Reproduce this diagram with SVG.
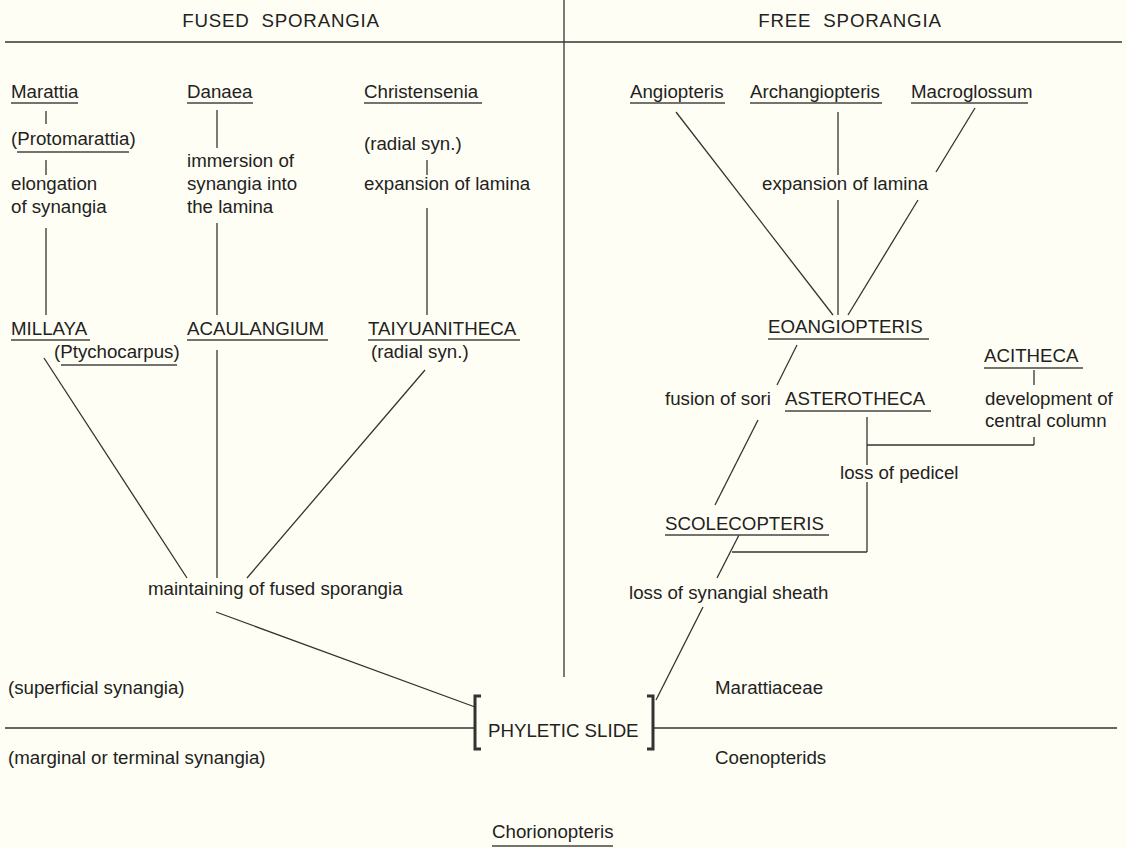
<svg xmlns="http://www.w3.org/2000/svg" width="1127" height="848" viewBox="0 0 1127 848">
<style>
text{font-family:"Liberation Sans",Arial,sans-serif;font-size:18.7px;fill:#222}
.t{letter-spacing:0.8px}
line,path{stroke:#333;stroke-width:1.3;fill:none}
.u{stroke:#444;stroke-width:1.4}
.br{stroke:#333;stroke-width:3;fill:none}
</style>
<rect width="1127" height="848" fill="#fffef4"/>
<g id="frame">
<line x1="5" y1="42" x2="1122" y2="42"/>
<line x1="564" y1="0" x2="564" y2="677"/>
<line x1="5" y1="728" x2="475" y2="728"/>
<line x1="653" y1="728" x2="1117" y2="728"/>
<text class="t" x="281" y="27" text-anchor="middle" xml:space="preserve">FUSED  SPORANGIA</text>
<text class="t" x="850" y="27" text-anchor="middle" xml:space="preserve">FREE  SPORANGIA</text>
<text x="8" y="694">(superficial synangia)</text>
<text x="8" y="764">(marginal or terminal synangia)</text>
<text x="715" y="694">Marattiaceae</text>
<text x="715" y="764">Coenopterids</text>
</g>
<g id="connectors">
<line x1="46" y1="111" x2="46" y2="124"/>
<line x1="46" y1="160" x2="46" y2="175"/>
<line x1="46" y1="228" x2="46" y2="315"/>
<line x1="217" y1="110" x2="217" y2="148"/>
<line x1="217" y1="223" x2="217" y2="315"/>
<line x1="427" y1="160" x2="427" y2="175"/>
<line x1="427" y1="208" x2="427" y2="315"/>
<line x1="44" y1="358" x2="187" y2="578"/>
<line x1="217" y1="350" x2="217" y2="578"/>
<line x1="425" y1="370" x2="247" y2="578"/>
<line x1="216" y1="612" x2="475" y2="707"/>
<line x1="676" y1="112" x2="833" y2="315"/>
<line x1="838" y1="112" x2="838" y2="175"/>
<line x1="838" y1="200" x2="838" y2="315"/>
<line x1="975" y1="108" x2="936" y2="172"/>
<line x1="918" y1="200" x2="848" y2="315"/>
<line x1="797" y1="345" x2="777" y2="385"/>
<line x1="758" y1="420" x2="715" y2="505"/>
<line x1="1034" y1="370" x2="1034" y2="385"/>
<line x1="1034" y1="437" x2="1034" y2="445"/>
<line x1="867" y1="417" x2="867" y2="465"/>
<line x1="867" y1="482" x2="867" y2="552"/>
<line x1="867" y1="445" x2="1034" y2="445"/>
<line x1="867" y1="552" x2="732" y2="552"/>
<line x1="739" y1="535" x2="717" y2="578"/>
<line x1="703" y1="607" x2="656" y2="700"/>
</g>
<g id="n-marattia"><text x="11" y="98">Marattia</text><line class="u" x1="11" y1="103" x2="78" y2="103"/></g>
<g id="n-protomarattia"><text x="11" y="145">(Protomarattia)</text><line class="u" x1="17" y1="152" x2="129" y2="152"/></g>
<g id="n-elongation"><text x="11" y="190">elongation</text><text x="11" y="213">of synangia</text></g>
<g id="n-danaea"><text x="187" y="98">Danaea</text><line class="u" x1="187" y1="103" x2="253" y2="103"/></g>
<g id="n-immersion"><text x="187" y="167">immersion of</text><text x="187" y="190">synangia into</text><text x="187" y="213">the lamina</text></g>
<g id="n-christensenia"><text x="364" y="98">Christensenia</text><line class="u" x1="364" y1="103" x2="482" y2="103"/></g>
<g id="n-radial1"><text x="364" y="150">(radial syn.)</text></g>
<g id="n-expansion1"><text x="364" y="190">expansion of lamina</text></g>
<g id="n-millaya"><text x="11" y="335">MILLAYA</text><line class="u" x1="11" y1="340" x2="90" y2="340"/></g>
<g id="n-ptychocarpus"><text x="54" y="358">(Ptychocarpus)</text><line class="u" x1="61" y1="365" x2="177" y2="365"/></g>
<g id="n-acaulangium"><text x="187" y="335">ACAULANGIUM</text><line class="u" x1="187" y1="340" x2="328" y2="340"/></g>
<g id="n-taiyuanitheca"><text x="368" y="335">TAIYUANITHECA</text><line class="u" x1="368" y1="340" x2="520" y2="340"/></g>
<g id="n-radial2"><text x="371" y="358">(radial syn.)</text></g>
<g id="n-maintaining"><text x="148" y="595">maintaining of fused sporangia</text></g>
<g id="n-phyletic"><path class="br" d="M481 696 H475 V749 H481"/><path class="br" d="M647 696 H653 V749 H647"/><text x="488" y="737">PHYLETIC SLIDE</text></g>
<g id="n-angiopteris"><text x="630" y="98">Angiopteris</text><line class="u" x1="630" y1="103" x2="725" y2="103"/></g>
<g id="n-archangiopteris"><text x="750" y="98">Archangiopteris</text><line class="u" x1="750" y1="103" x2="882" y2="103"/></g>
<g id="n-macroglossum"><text x="911" y="98">Macroglossum</text><line class="u" x1="911" y1="103" x2="1028" y2="103"/></g>
<g id="n-expansion2"><text x="762" y="190">expansion of lamina</text></g>
<g id="n-eoangiopteris"><text x="768" y="333">EOANGIOPTERIS</text><line class="u" x1="768" y1="339" x2="929" y2="339"/></g>
<g id="n-acitheca"><text x="984" y="362">ACITHECA</text><line class="u" x1="984" y1="368" x2="1083" y2="368"/></g>
<g id="n-fusion"><text x="665" y="405">fusion of sori</text></g>
<g id="n-asterotheca"><text x="785" y="405">ASTEROTHECA</text><line class="u" x1="785" y1="411" x2="931" y2="411"/></g>
<g id="n-development"><text x="985" y="405">development of</text><text x="985" y="427">central column</text></g>
<g id="n-pedicel"><text x="840" y="479">loss of pedicel</text></g>
<g id="n-scolecopteris"><text x="665" y="530">SCOLECOPTERIS</text><line class="u" x1="665" y1="535" x2="829" y2="535"/></g>
<g id="n-sheath"><text x="629" y="599">loss of synangial sheath</text></g>
<g id="n-chorionopteris"><text x="492" y="838">Chorionopteris</text><line class="u" x1="492" y1="846" x2="613" y2="846"/></g>
</svg>
